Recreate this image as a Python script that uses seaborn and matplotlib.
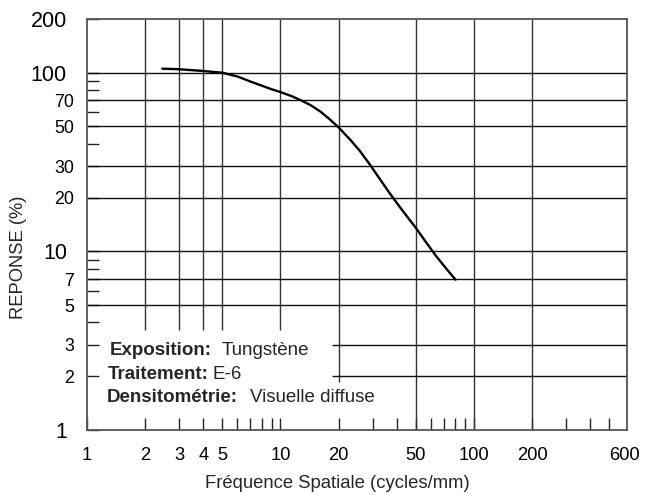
import matplotlib
matplotlib.use("Agg")
import matplotlib.pyplot as plt
import seaborn as sns
import pandas as pd

# ---- data ----
freq = [2.45, 3, 4, 5, 6, 7.1, 9.06, 10, 11.4, 12.8, 14.4, 16.1, 18.0, 20,
        22.8, 25.7, 28.9, 32.6, 36.7, 41.3, 46.6, 50, 56.8, 64.0, 72.1, 80.5]
resp = [105.3, 104.5, 102.2, 100, 95.2, 88.7, 80.6, 77.9, 74.0, 70, 65.6, 60.6,
        54.8, 49.4, 42.5, 36.6, 30.8, 25.5, 21.2, 17.8, 15.0, 13.6, 11.2, 9.38,
        8.0, 6.94]

x_tick_vals = [1, 2, 3, 4, 5, 10, 20, 50, 100, 200, 600]
x_tick_labels = ["1", "2", "3", "4", "5", "10", "20", "50", "100", "200", "600"]
x_minor = [6, 7, 8, 9, 30, 40, 60, 70, 80, 90, 300, 400, 500]

y_tick_vals = [1, 2, 3, 5, 7, 10, 20, 30, 50, 70, 100, 200]
y_tick_labels = ["1", "2", "3", "5", "7", "10", "20", "30", "50", "70", "100", "200"]
y_big = [1, 10, 100, 200]
y_minor = [4, 6, 8, 9, 40, 60, 80, 90]

grid_x_full = [50, 100, 200]
grid_x_short = [2, 3, 4, 5, 10]
grid_x_mid = [20]
grid_y_full = [5, 7, 10, 20, 30, 50, 70, 100]
grid_y_short = [2, 3]

info_keys = ["Exposition:", "Traitement:", "Densitométrie:"]
info_vals = ["Tungstène", "E-6", "Visuelle diffuse"]

sns.set_style("white")
plt.rcParams["font.family"] = ["Liberation Sans", "DejaVu Sans"]

W, H = 655, 495
fig = plt.figure(figsize=(W / 100, H / 100), dpi=100)
ax = fig.add_axes([87 / W, 65 / H, 540 / W, 411.1 / H])
ax.set_xscale("log")
ax.set_yscale("log")
ax.set_xlim(1, 620)
ax.set_ylim(1, 200)

gc = "#333333"
glw = 1.0
ax.vlines(grid_x_full, 1, 200, color=gc, lw=glw, zorder=1)
ax.vlines(grid_x_short, 3.63, 200, color=gc, lw=glw, zorder=1)
ax.vlines(grid_x_mid, 1.86, 200, color=gc, lw=glw, zorder=1)
ax.hlines(grid_y_full, 1, 620, color="#111111", lw=glw, zorder=1)
ax.hlines(grid_y_short, 18.5, 620, color="#111111", lw=glw, zorder=1)

df = pd.DataFrame({"freq": freq, "resp": resp})
sns.lineplot(data=df, x="freq", y="resp", ax=ax, color="black", lw=1.7,
             sort=False, estimator=None, zorder=3)
ax.set_xlabel("")
ax.set_ylabel("")

# ticks
ax.set_xticks(x_tick_vals)
ax.set_xticklabels(x_tick_labels, fontsize=13.2)
ax.set_xticks(x_minor, minor=True)
ax.set_xticklabels([""] * len(x_minor), minor=True)
ax.set_yticks(y_tick_vals)
ax.set_yticklabels(y_tick_labels)
ax.set_yticks(y_minor, minor=True)
ax.set_yticklabels([""] * len(y_minor), minor=True)

ax.tick_params(axis="both", which="both", direction="in", length=8.6,
               width=1.0, color="#222222", labelcolor="black",
               bottom=True, left=True, top=False, right=False)
ax.tick_params(axis="x", which="major", pad=12)
ax.xaxis.get_major_ticks()[-1].tick1line.set_visible(False)

for v, t in zip(y_tick_vals, ax.yaxis.get_major_ticks()):
    if v in y_big:
        t.set_pad(14.4)
        t.label1.set_fontsize(15.5)
    else:
        t.set_pad(9.4)
        t.label1.set_fontsize(12.8)

for s in ax.spines.values():
    s.set_color("#555555")
    s.set_linewidth(1.3)
    s.set_visible(True)

# info block
key_x = [110, 108, 107]
val_x = [222, 213, 250]
base_y = [355, 379, 401.7]
for k, v, kx, vx, by in zip(info_keys, info_vals, key_x, val_x, base_y):
    fig.text(kx / W, 1 - by / H, k, fontsize=13.5, fontweight="bold",
             va="baseline", ha="left")
    fig.text(vx / W, 1 - by / H, v, fontsize=13.5, va="baseline", ha="left")

fig.text(337 / W, 1 - 483 / H, "Fréquence Spatiale (cycles/mm)", fontsize=13.3,
         ha="center", va="center")
fig.text(19 / W, 1 - 257 / H, "REPONSE (%)", fontsize=13.2, rotation=90,
         ha="center", va="center")

fig.savefig("out.png", dpi=100)
